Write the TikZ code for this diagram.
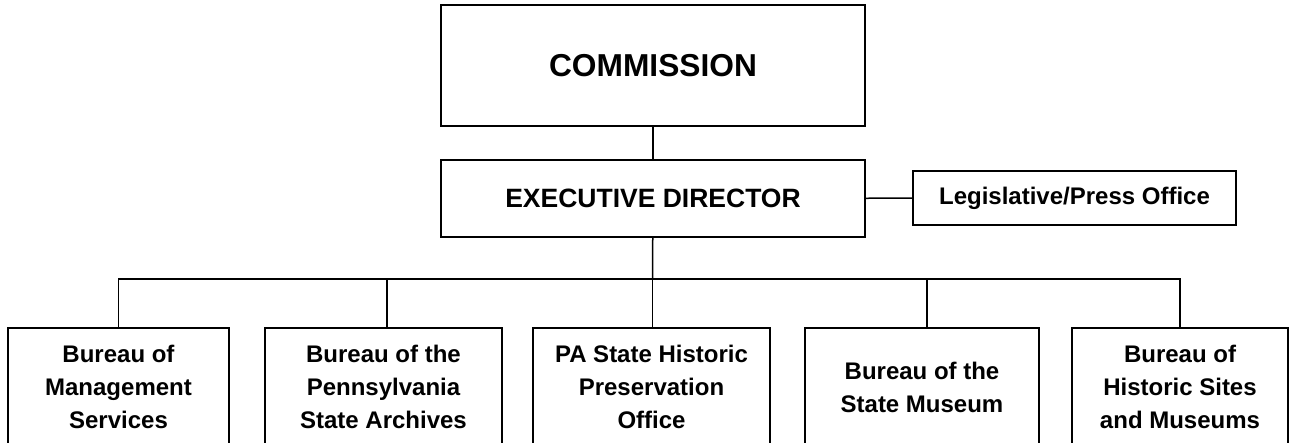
\documentclass[tikz,border=0pt]{standalone}
\usepackage{fontspec}
\setmainfont{Liberation Sans}
\usepackage{tikz}
\usetikzlibrary{calc}

\begin{document}
\begin{tikzpicture}[x=1pt, y=-1pt,
    unitbox/.style={draw, line width=1.8pt, inner sep=0pt, align=center,
        font=\fontsize{24}{33}\selectfont\bfseries},
    link/.style={line width=1.5pt}]
    \clip (0,0) rectangle (1290,442);
    % top of the chart
    \node[unitbox, minimum width=424pt, minimum height=121pt,
        font=\fontsize{31.7}{38}\selectfont\bfseries] (comm) at (653,65.5) {\raisebox{-2.5pt}{COMMISSION}};
    \node[unitbox, minimum width=424pt, minimum height=77pt,
        font=\fontsize{26.5}{32}\selectfont\bfseries] (exec) at (653,198.5) {EXECUTIVE DIRECTOR};
    \node[unitbox, minimum width=323pt, minimum height=54pt] (press) at (1074.5,198) {Legislative/Press Office};
    % bureaus
    \node[unitbox, minimum width=221pt, minimum height=118pt] (mgmt) at (118.5,387) {Bureau of\\Management\\Services};
    \node[unitbox, minimum width=237pt, minimum height=118pt] (arch) at (383.5,387) {Bureau of the\\Pennsylvania\\State Archives};
    \node[unitbox, minimum width=237pt, minimum height=118pt] (shpo) at (651.5,387) {PA State Historic\\Preservation\\Office};
    \node[unitbox, minimum width=234pt, minimum height=118pt] (musm) at (922,387) {Bureau of the\\State Museum};
    \node[unitbox, minimum width=216pt, minimum height=118pt] (site) at (1180,387) {Bureau of\\Historic Sites\\and Museums};
    % connectors
    \coordinate (bus) at (652.5,279);
    \draw[link] (comm) -- (exec);
    \draw[link] (exec) -- (press);
    \draw[link] (exec) -- (bus);
    \draw[link] (mgmt.north) |- (bus) -| (site.north);
    \draw[link] ($(arch.north)+(3.5,0)$) -- ($(arch.north |- bus)+(3.5,0)$);
    \draw[link] (shpo.north -| bus) -- (bus);
    \draw[link] ($(musm.north)+(5,0)$) -- ($(musm.north |- bus)+(5,0)$);
\end{tikzpicture}
\end{document}
